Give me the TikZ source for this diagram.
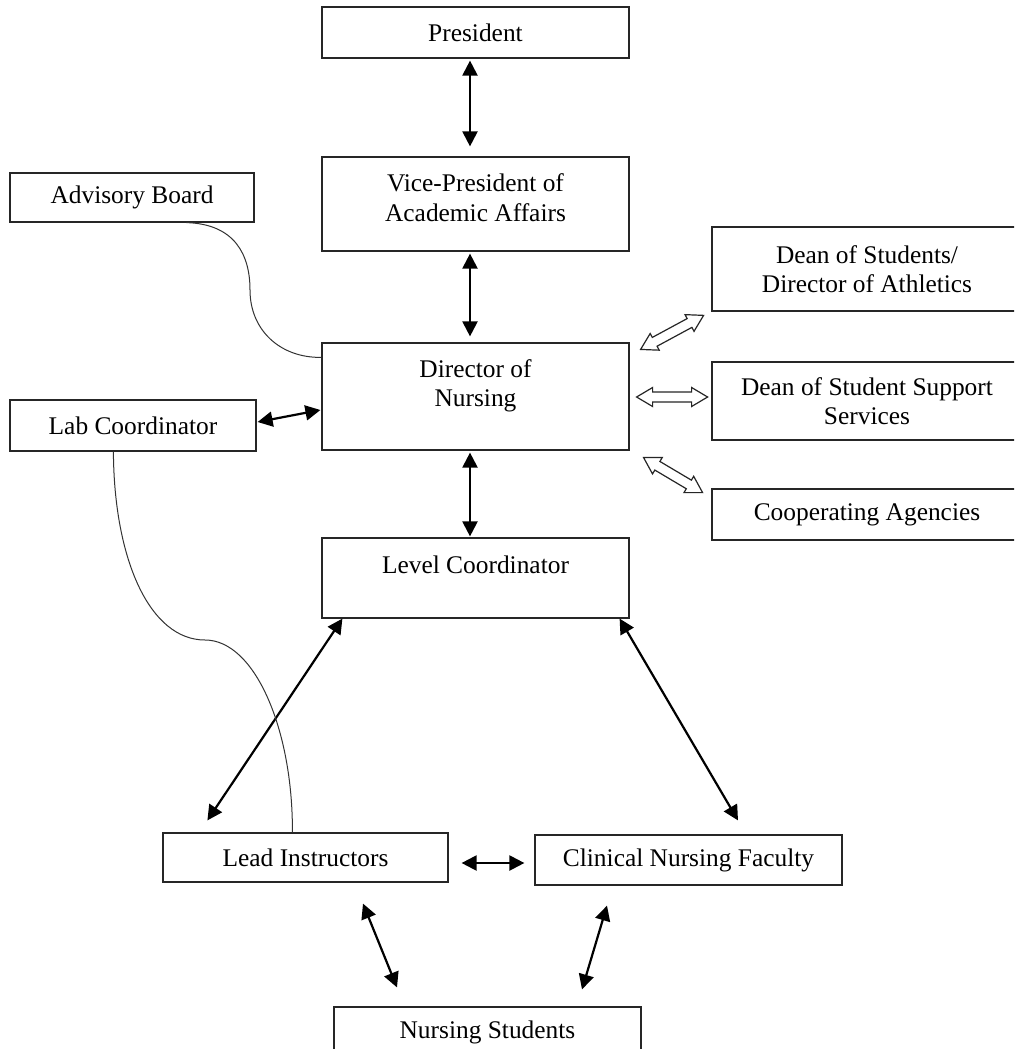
\documentclass[tikz,border=0pt]{standalone}
\usepackage{fontspec}
\setmainfont{Liberation Serif}
\usetikzlibrary{arrows.meta,calc}
\newcommand\hollowarr[3]{%
  \begin{scope}[shift={#1},rotate=#2]
    \draw[hollowline] ({-#3},0) -- ({-#3+16},9.5) -- ({-#3+16},5) -- ({#3-16},5)
      -- ({#3-16},9.5) -- ({#3},0) -- ({#3-16},-9.5) -- ({#3-16},-5)
      -- ({-#3+16},-5) -- ({-#3+16},-9.5) -- cycle;
  \end{scope}}
\begin{document}
\begin{tikzpicture}[x=0.5pt,y=-0.5pt,
  box/.style={draw=black!85, line width=0.6pt, inner sep=0pt, align=center,
    font=\fontsize{12.7}{14.7}\selectfont},
  biarrow/.style={{Triangle[length=7.5pt,width=7.5pt]}-{Triangle[length=7.5pt,width=7.5pt]}, line width=1.1pt},
  hollowline/.style={draw=black!85, fill=white, line width=0.6pt, line join=miter},
  curve/.style={draw=black!80, line width=0.5pt}]
\useasboundingbox (0,0) rectangle (1014,1049);
\clip (0,0) rectangle (1014,1049);

% boxes
\node[box, minimum width=153.5pt, minimum height=25.5pt] (pres) at (475.5,32.5) {President};
\node[box, minimum width=153.5pt, minimum height=47pt, text depth=6.5pt] (vp) at (475.5,204) {Vice-President of\\Academic Affairs};
\node[box, minimum width=153.5pt, minimum height=53.5pt, text depth=13.3pt] (dir) at (475.5,396.5) {Director of\\Nursing};
\node[box, minimum width=153.5pt, minimum height=40pt, text depth=13pt] (level) at (475.5,578) {Level Coordinator};
\node[box, minimum width=122pt, minimum height=24.5pt] (adv) at (132,197.5) {Advisory Board};
\node[box, minimum width=123pt, minimum height=25.5pt] (lab) at (133,425.5) {Lab Coordinator};
\node[box, minimum width=155pt, minimum height=42pt] (deans) at (867,269) {Dean of Students/\\Director of Athletics};
\node[box, minimum width=155pt, minimum height=39pt] (support) at (867,401) {Dean of Student Support\\Services};
\node[box, minimum width=155pt, minimum height=25.5pt] (coop) at (867,514.5) {Cooperating Agencies};
\node[box, minimum width=142.5pt, minimum height=24.5pt] (lead) at (305.5,857.5) {Lead Instructors};
\node[box, minimum width=153.5pt, minimum height=25pt] (clin) at (688.5,860) {Clinical Nursing Faculty};
\node[box, minimum width=153.5pt, minimum height=25.5pt] (nurs) at (487.5,1032.5) {Nursing Students};

% solid double arrows
\draw[biarrow] ($(pres.south)+(-5.5,2)$) -- ($(vp.north)+(-5.5,-10)$);
\draw[biarrow] ($(vp.south)+(-5.5,2)$) -- ($(dir.north)+(-5.5,-6)$);
\draw[biarrow] ($(dir.south)+(-5.5,2)$) -- ($(level.north)+(-5.5,-1)$);
\draw[biarrow] ($(lab.east)+(1,-3.5)$) -- ($(dir.west)+(-1,13.5)$);
\draw[biarrow] ($(level.south west)+(21,0)$) -- ($(lead.north west)+(45,-12)$);
\draw[biarrow] ($(level.south east)+(-10,0)$) -- ($(clin.north)+(49.5,-14)$);
\draw[biarrow] ($(lead.east)+(13,5.5)$) -- ($(clin.west)+(-10,3)$);
\draw[biarrow] ($(lead.south)+(57.5,21)$) -- ($(nurs.north)+(-90.5,-19)$);
\draw[biarrow] ($(clin.south)+(-81.5,20)$) -- ($(nurs.north)+(94.5,-17)$);

% hollow double arrows
\hollowarr{($(dir.north east)+(42.5,-10)$)}{28.4}{35.8}
\hollowarr{($(dir.east)+(42.5,0.5)$)}{0}{35.5}
\hollowarr{($(dir.south east)+(43.5,24.5)$)}{-30.7}{34.3}

% thin curved connectors
\coordinate (advb) at ($(adv.south west)+(177,0)$);
\coordinate (dirl) at ($(dir.north west)+(0,15)$);
\draw[curve] (advb) .. controls (235,224) and (250,255) .. (250,290)
  .. controls (250,330) and (280,358) .. (dirl);
\coordinate (labb) at ($(lab.south west)+(104,0)$);
\coordinate (leadt) at ($(lead.north west)+(130,0)$);
\draw[curve] (labb) .. controls (114,560) and (150,640) .. (205,640)
  .. controls (255,640) and (293,730) .. (leadt);
\end{tikzpicture}
\end{document}
